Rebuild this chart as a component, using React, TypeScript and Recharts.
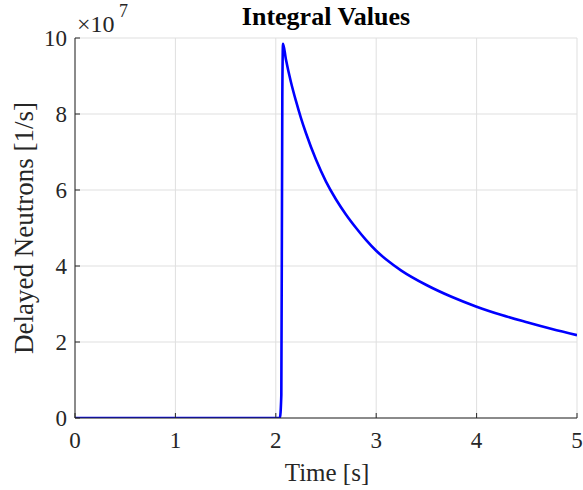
import React from 'react';
import { LineChart, Line, XAxis, YAxis, CartesianGrid } from 'recharts';

const timeS = [0, 0.5, 1, 1.5, 2, 2.04, 2.055, 2.065, 2.072, 2.1, 2.15, 2.2, 2.25, 2.3, 2.4, 2.5, 2.6, 2.7, 2.8, 2.9, 3.0, 3.1, 3.25, 3.5, 3.75, 4.0, 4.25, 4.5, 4.75, 5.0];
const delayedNeutrons = [0, 0, 0, 0, 0, 0, 0.6e7, 8.5e7, 9.85e7, 9.45e7, 8.85e7, 8.35e7, 7.9e7, 7.5e7, 6.8e7, 6.22e7, 5.75e7, 5.35e7, 5.0e7, 4.68e7, 4.4e7, 4.17e7, 3.88e7, 3.5e7, 3.19e7, 2.93e7, 2.71e7, 2.52e7, 2.34e7, 2.18e7];
const xTicks = [0, 1, 2, 3, 4, 5];
const yTicks = [0, 2e7, 4e7, 6e7, 8e7, 10e7];
const yScaleExp = 7;
const title = 'Integral Values';
const xLabel = 'Time [s]';
const yLabel = 'Delayed Neutrons [1/s]';

const data = timeS.map((t, i) => ({ t, n: delayedNeutrons[i] }));

const FONT = '"Liberation Serif", "Times New Roman", serif';
const AX = '#262626';
const TICK_FS = 23;

const BottomTick = (p: any) => {
  const { x, y, payload } = p;
  return (
    <g>
      <line x1={x} x2={x} y1={y} y2={y - 5} stroke={AX} strokeWidth={1} />
      <text x={x} y={y + 30} textAnchor="middle" fontFamily={FONT} fontSize={TICK_FS} fill={AX}>{payload.value}</text>
    </g>
  );
};
const TopTick = (p: any) => {
  const { x, y } = p;
  return <line x1={x} x2={x} y1={y} y2={y + 5} stroke={AX} strokeWidth={1} />;
};
const LeftTick = (p: any) => {
  const { x, y, payload } = p;
  return (
    <g>
      <line x1={x} x2={x + 5} y1={y} y2={y} stroke={AX} strokeWidth={1} />
      <text x={x - 8} y={y + 8} textAnchor="end" fontFamily={FONT} fontSize={TICK_FS} fill={AX}>{Math.round(payload.value / Math.pow(10, yScaleExp))}</text>
    </g>
  );
};
const RightTick = (p: any) => {
  const { x, y } = p;
  return <line x1={x} x2={x - 5} y1={y} y2={y} stroke={AX} strokeWidth={1} />;
};

export default function App() {
  return (
    <div style={{ position: 'absolute', left: 0, top: 0, width: 583, height: 490, background: '#fff' }}>
      <LineChart width={583} height={490} data={data} margin={{ top: 38, right: 6, bottom: 0, left: 0 }}>
        <CartesianGrid xAxisId="b" yAxisId="l" stroke="#dfdfdf" strokeWidth={1} />
        <XAxis xAxisId="b" orientation="bottom" height={72} type="number" dataKey="t" domain={[0, 5]} ticks={xTicks} interval={0} allowDataOverflow tickSize={0} tickMargin={0} tickLine={false} axisLine={{ stroke: AX, strokeWidth: 1 }} tick={BottomTick} />
        <XAxis xAxisId="t" orientation="top" height={0} type="number" dataKey="t" domain={[0, 5]} ticks={xTicks} interval={0} allowDataOverflow tickSize={0} tickMargin={0} tickLine={false} axisLine={{ stroke: AX, strokeWidth: 1 }} tick={TopTick} />
        <YAxis yAxisId="l" orientation="left" width={75} type="number" domain={[0, 1e8]} ticks={yTicks} interval={0} allowDataOverflow tickSize={0} tickMargin={0} tickLine={false} axisLine={{ stroke: AX, strokeWidth: 1 }} tick={LeftTick} />
        <YAxis yAxisId="r" orientation="right" width={0} type="number" domain={[0, 1e8]} ticks={yTicks} interval={0} allowDataOverflow tickSize={0} tickMargin={0} tickLine={false} axisLine={{ stroke: AX, strokeWidth: 1 }} tick={RightTick} />
        <Line xAxisId="b" yAxisId="l" type="monotone" dataKey="n" stroke="#0000ff" strokeWidth={2.6} dot={false} activeDot={false} isAnimationActive={false} />
      </LineChart>
      <svg width={583} height={490} style={{ position: 'absolute', left: 0, top: 0, pointerEvents: 'none' }}>
        <text x={326} y={25} textAnchor="middle" fontFamily={FONT} fontSize={26} fontWeight="bold" fill="#000">{title}</text>
        <text x={77} y={32} fontFamily={FONT} fontSize={24} fill={AX}>×10</text>
        <text x={119} y={17} fontFamily={FONT} fontSize={18} fill={AX}>{yScaleExp}</text>
        <text x={327} y={481} textAnchor="middle" fontFamily={FONT} fontSize={25} fill={AX}>{xLabel}</text>
        <text transform="translate(33,228) rotate(-90)" x={0} y={0} textAnchor="middle" fontFamily={FONT} fontSize={27} fill={AX}>{yLabel}</text>
      </svg>
    </div>
  );
}
